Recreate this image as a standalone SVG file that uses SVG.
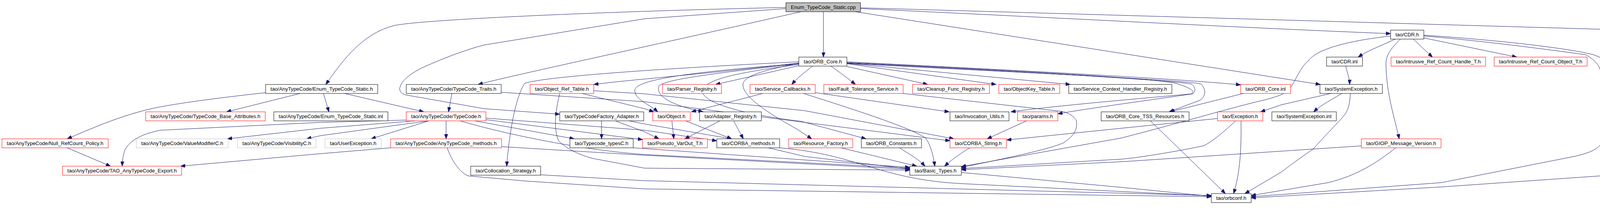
<svg xmlns="http://www.w3.org/2000/svg" width="4956" height="560" viewBox="0 0 4956 560">
<style>
rect{stroke-width:1}
.b rect{fill:#fff;stroke:#000}
.r rect{fill:#fff;stroke:#f00}
.g rect{fill:#fff;stroke:#bfbfbf}
.root rect{fill:#bfbfbf;stroke:#000}
text{font-family:"Liberation Sans",Arial,Helvetica,sans-serif;font-size:13px;text-anchor:middle;fill:#000}
#edges path{fill:none;stroke:#191970;stroke-width:1;marker-end:url(#a)}
</style>
<defs>
<marker id="a" markerUnits="userSpaceOnUse" markerWidth="13" markerHeight="9" refX="12" refY="4.5" orient="auto"><path d="M0,0 L12,4.5 L0,9 z" fill="#191970" stroke="#191970"/></marker>
</defs>
<rect width="4956" height="560" fill="#fff"/>
<g id="edges">
<path d="M2108,30 L2108,146"/>
<path d="M2012,19 C1600,28 1100,48 1010,65 C930,85 880,150 834,216"/>
<path d="M2050,30 C1700,110 1300,195 1224,216"/>
<path d="M2012,22 L1650,48 L1240,115 C1180,130 1110,160 1077,175 C1050,190 1027,205 1023,227 C1025,238 1030,240 1040,243 L1240,278 L1433,292"/>
<path d="M2203,22 C2700,45 3200,72 3560,86"/>
<path d="M2190,30 L3380,216"/>
<path d="M2203,20 C2900,40 3800,66 4481,86"/>
<path d="M768,239 L580,286"/>
<path d="M828,239 L842,286"/>
<path d="M882,239 L1085,286"/>
<path d="M680,237 C560,250 420,268 367,283 C300,300 230,330 172,355"/>
<path d="M1157,239 L1148,286"/>
<path d="M1283,236 L1650,260 L2060,313 L2432,360"/>
<path d="M1040,307 L820,313 L410,333 C367,342 333,357 320,383 C314,400 313,413 313,425"/>
<path d="M1063,309 L820,328 L582,355"/>
<path d="M1097,309 L820,347 L785,355"/>
<path d="M1098,309 L950,355"/>
<path d="M1142,309 L1142,355"/>
<path d="M1215,309 L1470,355"/>
<path d="M1244,306 L1645,357"/>
<path d="M1244,302 L1650,333 L1835,360"/>
<path d="M1178,309 C1300,345 1500,385 1650,395 L2329,430"/>
<path d="M1000,378 L820,393 L462,425"/>
<path d="M1145,378 C1155,410 1180,445 1200,450 L1347,463 L1650,483 L3101,503"/>
<path d="M1284,375 L1650,397 L2329,433"/>
<path d="M1490,239 L1650,278 L1674,286"/>
<path d="M1520,232 L1650,240 L2060,283 L2442,355"/>
<path d="M1433,239 C1420,290 1418,333 1430,360 C1450,380 1480,395 1517,405 L1650,430 L2329,435"/>
<path d="M1540,309 L1540,355"/>
<path d="M1575,309 L1650,337 L1687,355"/>
<path d="M1610,309 L1650,317 L1873,355"/>
<path d="M1621,378 L1650,380 L2329,428"/>
<path d="M2045,158 C1700,175 1400,195 1343,213 C1320,250 1305,330 1297,425"/>
<path d="M2045,161 C1800,190 1600,205 1520,216"/>
<path d="M2045,168 L1832,216"/>
<path d="M2080,169 C2060,185 2040,200 2027,216"/>
<path d="M2127,169 C2150,185 2170,200 2190,216"/>
<path d="M2168,170 L2375,216"/>
<path d="M2168,163 L2550,216"/>
<path d="M2168,162 L2740,216"/>
<path d="M2168,158 C2600,180 3000,200 3176,217"/>
<path d="M2168,160 C2600,180 2950,200 3010,213 C3060,228 3057,237 3050,240 C3000,245 2700,270 2588,286"/>
<path d="M2168,161 C2600,182 3000,205 3050,215 C3063,225 3060,235 3053,240 C2950,255 2800,275 2708,291"/>
<path d="M2168,162 C2600,185 3050,205 3075,215 C3090,230 3085,250 3070,257 L2993,286"/>
<path d="M2045,163 C1750,185 1630,205 1625,230 C1625,255 1660,265 1684,286"/>
<path d="M2045,163 C1800,190 1700,205 1687,220 C1680,240 1700,265 1800,286"/>
<path d="M2045,162 C1950,180 1905,195 1902,215 C1900,240 1940,275 2040,330 L2078,355"/>
<path d="M2045,165 C1850,190 1790,210 1800,240 C1820,275 1960,300 2050,310 L2217,355"/>
<path d="M1953,239 L1770,286"/>
<path d="M2087,237 L2430,286"/>
<path d="M2057,239 C2250,300 2333,330 2370,353 C2383,373 2390,400 2393,425"/>
<path d="M2312,239 L2470,257 L2720,285 C2740,290 2750,300 2755,307 C2760,330 2750,347 2723,365 C2690,380 2600,400 2461,428"/>
<path d="M1720,309 L1725,355"/>
<path d="M1755,309 L1873,355"/>
<path d="M1843,309 L1753,355"/>
<path d="M1878,309 L1903,355"/>
<path d="M1967,378 L2060,400 L2329,432"/>
<path d="M1996,378 C2200,395 2250,460 2470,470 L3101,501"/>
<path d="M2153,378 L2347,425"/>
<path d="M2303,378 C2320,390 2350,405 2368,425"/>
<path d="M2483,378 C2470,385 2440,405 2418,425"/>
<path d="M2628,309 L2527,355"/>
<path d="M2461,441 L2880,480 L3101,502"/>
<path d="M1384,447 L1650,462 L3101,500"/>
<path d="M3183,239 L2995,286"/>
<path d="M3117,303 L2870,328 L2577,358"/>
<path d="M3163,309 C3120,350 3090,370 3080,373 C3000,390 2900,405 2870,407 L2461,431"/>
<path d="M3177,309 C3178,380 3175,440 3158,495"/>
<path d="M2945,309 L3137,495"/>
<path d="M3457,239 C3455,280 3445,290 3437,300 C3400,340 3380,360 3363,380 C3320,410 3300,425 3280,440 L3187,495"/>
<path d="M3407,239 L3280,268 L3227,286"/>
<path d="M3435,239 C3400,260 3380,270 3363,286"/>
<path d="M3572,100 C3540,115 3500,130 3477,146"/>
<path d="M3618,100 L3667,146"/>
<path d="M3585,100 C3560,125 3548,140 3548,165 C3550,245 3570,300 3582,355"/>
<path d="M3645,97 L3883,146"/>
<path d="M3645,90 C3800,100 4000,120 4080,140 C4130,160 4150,180 4150,200 L4152,300 C4155,340 4165,360 4180,380 C4190,395 4200,410 4213,425"/>
<path d="M3645,92 C3800,105 3950,125 4060,140 C4085,155 4100,170 4100,200 L4100,367 C4090,380 4075,390 4030,400 L3690,467 L3203,503"/>
<path d="M3560,92 C3400,110 3360,140 3350,155 C3330,170 3320,200 3300,230 C3285,245 3240,255 3210,262 C3100,290 3000,320 2870,353 L2461,426"/>
<path d="M3445,169 C3450,190 3455,200 3455,216"/>
<path d="M3485,373 L2880,413 L2461,434"/>
<path d="M3573,378 C3520,420 3470,450 3400,467 L3203,500"/>
<path d="M4137,447 L3690,478 L3203,506"/>
<path d="M4507,100 L4313,146"/>
<path d="M4543,100 L4483,146"/>
<path d="M4582,100 L4648,146"/>
<path d="M4611,100 L4803,146"/>
<path d="M4820,146 L4625,100"/>
<path d="M172,378 L283,425"/>
</g>
<g id="n_root" class="root"><rect x="2012" y="7" width="191" height="23"/><text x="2107.5" y="23" textLength="166" lengthAdjust="spacingAndGlyphs">Enum_TypeCode_Static.cpp</text></g>
<g id="n_orbcore" class="b"><rect x="2045" y="146" width="123" height="23"/><text x="2106.5" y="162" textLength="98" lengthAdjust="spacingAndGlyphs">tao/ORB_Core.h</text></g>
<g id="n_cdr" class="b"><rect x="3560" y="77" width="85" height="23"/><text x="3602.5" y="93" textLength="60" lengthAdjust="spacingAndGlyphs">tao/CDR.h</text></g>
<g id="n_dynsvc" class="b"><rect x="4481" y="77" width="163" height="23"/><text x="4562.5" y="93" textLength="138" lengthAdjust="spacingAndGlyphs">ace/Dynamic_Service.h</text></g>
<g id="n_enumh" class="b"><rect x="680" y="216" width="287" height="23"/><text x="823.5" y="232" textLength="262" lengthAdjust="spacingAndGlyphs">tao/AnyTypeCode/Enum_TypeCode_Static.h</text></g>
<g id="n_traits" class="b"><rect x="1040" y="216" width="243" height="23"/><text x="1161.5" y="232" textLength="218" lengthAdjust="spacingAndGlyphs">tao/AnyTypeCode/TypeCode_Traits.h</text></g>
<g id="n_objreftable" class="r"><rect x="1357" y="216" width="163" height="23"/><text x="1438.5" y="232" textLength="138" lengthAdjust="spacingAndGlyphs">tao/Object_Ref_Table.h</text></g>
<g id="n_parser" class="r"><rect x="1696" y="216" width="151" height="23"/><text x="1771.5" y="232" textLength="126" lengthAdjust="spacingAndGlyphs">tao/Parser_Registry.h</text></g>
<g id="n_svccb" class="r"><rect x="1920" y="216" width="167" height="23"/><text x="2003.5" y="232" textLength="142" lengthAdjust="spacingAndGlyphs">tao/Service_Callbacks.h</text></g>
<g id="n_ft" class="r"><rect x="2109" y="216" width="203" height="23"/><text x="2210.5" y="232" textLength="178" lengthAdjust="spacingAndGlyphs">tao/Fault_Tolerance_Service.h</text></g>
<g id="n_cleanup" class="r"><rect x="2336" y="216" width="197" height="23"/><text x="2434.5" y="232" textLength="172" lengthAdjust="spacingAndGlyphs">tao/Cleanup_Func_Registry.h</text></g>
<g id="n_objkey" class="r"><rect x="2557" y="216" width="156" height="23"/><text x="2635" y="232" textLength="131" lengthAdjust="spacingAndGlyphs">tao/ObjectKey_Table.h</text></g>
<g id="n_sch" class="b"><rect x="2736" y="216" width="264" height="23"/><text x="2868" y="232" textLength="239" lengthAdjust="spacingAndGlyphs">tao/Service_Context_Handler_Registry.h</text></g>
<g id="n_orbcoreinl" class="r"><rect x="3176" y="216" width="128" height="23"/><text x="3240" y="232" textLength="103" lengthAdjust="spacingAndGlyphs">tao/ORB_Core.inl</text></g>
<g id="n_sysexch" class="b"><rect x="3379" y="216" width="160" height="23"/><text x="3459" y="232" textLength="135" lengthAdjust="spacingAndGlyphs">tao/SystemException.h</text></g>
<g id="n_cdrinl" class="b"><rect x="3396" y="146" width="92" height="23"/><text x="3442" y="162" textLength="67" lengthAdjust="spacingAndGlyphs">tao/CDR.inl</text></g>
<g id="n_irch" class="r"><rect x="3561" y="146" width="242" height="23"/><text x="3682" y="162" textLength="217" lengthAdjust="spacingAndGlyphs">tao/Intrusive_Ref_Count_Handle_T.h</text></g>
<g id="n_irco" class="r"><rect x="3825" y="146" width="238" height="23"/><text x="3944" y="162" textLength="213" lengthAdjust="spacingAndGlyphs">tao/Intrusive_Ref_Count_Object_T.h</text></g>
<g id="n_globalmacros" class="r"><rect x="4188" y="146" width="148" height="23"/><text x="4262" y="162" textLength="123" lengthAdjust="spacingAndGlyphs">ace/Global_Macros.h</text></g>
<g id="n_dsbase" class="b"><rect x="4359" y="146" width="200" height="23"/><text x="4459" y="162" textLength="175" lengthAdjust="spacingAndGlyphs">ace/Dynamic_Service_Base.h</text></g>
<g id="n_dsinl" class="b"><rect x="4583" y="146" width="168" height="23"/><text x="4667" y="162" textLength="143" lengthAdjust="spacingAndGlyphs">ace/Dynamic_Service.inl</text></g>
<g id="n_dscpp" class="r"><rect x="4775" y="146" width="177" height="23"/><text x="4863.5" y="162" textLength="152" lengthAdjust="spacingAndGlyphs">ace/Dynamic_Service.cpp</text></g>
<g id="n_tcbase" class="r"><rect x="373" y="286" width="306" height="23"/><text x="526" y="302" textLength="281" lengthAdjust="spacingAndGlyphs">tao/AnyTypeCode/TypeCode_Base_Attributes.h</text></g>
<g id="n_enuminl" class="b"><rect x="701" y="286" width="292" height="23"/><text x="847" y="302" textLength="267" lengthAdjust="spacingAndGlyphs">tao/AnyTypeCode/Enum_TypeCode_Static.inl</text></g>
<g id="n_typecode" class="r"><rect x="1040" y="286" width="204" height="23"/><text x="1142" y="302" textLength="179" lengthAdjust="spacingAndGlyphs">tao/AnyTypeCode/TypeCode.h</text></g>
<g id="n_tcfa" class="b"><rect x="1433" y="286" width="215" height="23"/><text x="1540.5" y="302" textLength="190" lengthAdjust="spacingAndGlyphs">tao/TypeCodeFactory_Adapter.h</text></g>
<g id="n_object" class="r"><rect x="1671" y="286" width="96" height="23"/><text x="1719" y="302" textLength="71" lengthAdjust="spacingAndGlyphs">tao/Object.h</text></g>
<g id="n_adapter" class="b"><rect x="1791" y="286" width="158" height="23"/><text x="1870" y="302" textLength="133" lengthAdjust="spacingAndGlyphs">tao/Adapter_Registry.h</text></g>
<g id="n_invutils" class="b"><rect x="2432" y="286" width="151" height="23"/><text x="2507.5" y="302" textLength="126" lengthAdjust="spacingAndGlyphs">tao/Invocation_Utils.h</text></g>
<g id="n_params" class="r"><rect x="2605" y="286" width="103" height="23"/><text x="2656.5" y="302" textLength="78" lengthAdjust="spacingAndGlyphs">tao/params.h</text></g>
<g id="n_tss" class="b"><rect x="2819" y="286" width="225" height="23"/><text x="2931.5" y="302" textLength="200" lengthAdjust="spacingAndGlyphs">tao/ORB_Core_TSS_Resources.h</text></g>
<g id="n_exception" class="r"><rect x="3117" y="286" width="116" height="23"/><text x="3175" y="302" textLength="91" lengthAdjust="spacingAndGlyphs">tao/Exception.h</text></g>
<g id="n_sysexcinl" class="b"><rect x="3256" y="286" width="165" height="23"/><text x="3338.5" y="302" textLength="140" lengthAdjust="spacingAndGlyphs">tao/SystemException.inl</text></g>
<g id="n_nullrc" class="r"><rect x="5" y="355" width="272" height="23"/><text x="141" y="371" textLength="247" lengthAdjust="spacingAndGlyphs">tao/AnyTypeCode/Null_RefCount_Policy.h</text></g>
<g id="n_valuemod" class="g"><rect x="349" y="355" width="235" height="23"/><text x="466.5" y="371" textLength="210" lengthAdjust="spacingAndGlyphs">tao/AnyTypeCode/ValueModifierC.h</text></g>
<g id="n_visibility" class="g"><rect x="608" y="355" width="201" height="23"/><text x="708.5" y="371" textLength="176" lengthAdjust="spacingAndGlyphs">tao/AnyTypeCode/VisibilityC.h</text></g>
<g id="n_userexc" class="g"><rect x="832" y="355" width="144" height="23"/><text x="904" y="371" textLength="119" lengthAdjust="spacingAndGlyphs">tao/UserException.h</text></g>
<g id="n_atcmethods" class="r"><rect x="1000" y="355" width="284" height="23"/><text x="1142" y="371" textLength="259" lengthAdjust="spacingAndGlyphs">tao/AnyTypeCode/AnyTypeCode_methods.h</text></g>
<g id="n_tctypes" class="b"><rect x="1459" y="355" width="162" height="23"/><text x="1540" y="371" textLength="137" lengthAdjust="spacingAndGlyphs">tao/Typecode_typesC.h</text></g>
<g id="n_pseudo" class="r"><rect x="1645" y="355" width="166" height="23"/><text x="1728" y="371" textLength="141" lengthAdjust="spacingAndGlyphs">tao/Pseudo_VarOut_T.h</text></g>
<g id="n_corbamethods" class="b"><rect x="1835" y="355" width="161" height="23"/><text x="1915.5" y="371" textLength="136" lengthAdjust="spacingAndGlyphs">tao/CORBA_methods.h</text></g>
<g id="n_resfactory" class="r"><rect x="2019" y="355" width="164" height="23"/><text x="2101" y="371" textLength="139" lengthAdjust="spacingAndGlyphs">tao/Resource_Factory.h</text></g>
<g id="n_orbconst" class="b"><rect x="2205" y="355" width="154" height="23"/><text x="2282" y="371" textLength="129" lengthAdjust="spacingAndGlyphs">tao/ORB_Constants.h</text></g>
<g id="n_corbastring" class="r"><rect x="2432" y="355" width="145" height="23"/><text x="2504.5" y="371" textLength="120" lengthAdjust="spacingAndGlyphs">tao/CORBA_String.h</text></g>
<g id="n_giop" class="r"><rect x="3485" y="355" width="204" height="23"/><text x="3587" y="371" textLength="179" lengthAdjust="spacingAndGlyphs">tao/GIOP_Message_Version.h</text></g>
<g id="n_export" class="r"><rect x="160" y="425" width="305" height="23"/><text x="312.5" y="441" textLength="280" lengthAdjust="spacingAndGlyphs">tao/AnyTypeCode/TAO_AnyTypeCode_Export.h</text></g>
<g id="n_colloc" class="b"><rect x="1205" y="425" width="179" height="23"/><text x="1294.5" y="441" textLength="154" lengthAdjust="spacingAndGlyphs">tao/Collocation_Strategy.h</text></g>
<g id="n_basictypes" class="b"><rect x="2329" y="425" width="132" height="23"/><text x="2395" y="441" textLength="107" lengthAdjust="spacingAndGlyphs">tao/Basic_Types.h</text></g>
<g id="n_msgsem" class="b"><rect x="4137" y="425" width="182" height="23"/><text x="4228" y="441" textLength="157" lengthAdjust="spacingAndGlyphs">tao/Message_Semantics.h</text></g>
<g id="n_orbconf" class="b"><rect x="3101" y="495" width="102" height="23"/><text x="3152" y="511" textLength="77" lengthAdjust="spacingAndGlyphs">tao/orbconf.h</text></g>
</svg>
